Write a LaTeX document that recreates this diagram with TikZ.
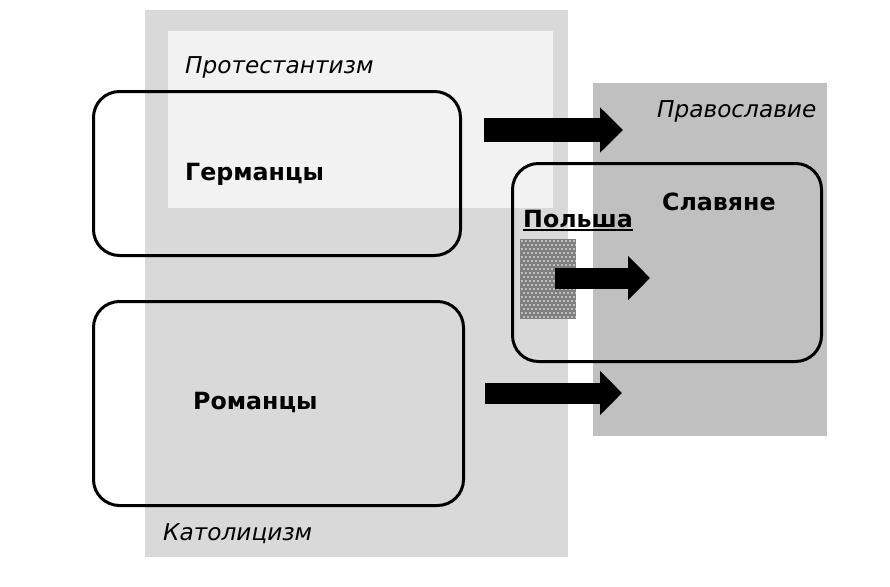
\documentclass[tikz,border=0pt]{standalone}
\usepackage{fontspec}
\setmainfont{DejaVu Sans}
\usetikzlibrary{arrows.meta}
\definecolor{cathcol}{HTML}{D9D9D9}
\definecolor{protcol}{HTML}{F2F2F2}
\definecolor{orthcol}{HTML}{C0C0C0}
\definecolor{polcol}{HTML}{7F7F7F}
\tikzset{
  region/.style={draw=none, inner sep=0pt, anchor=north west},
  rbox/.style={draw=black, line width=3pt, rounded corners=26pt, inner sep=0pt, anchor=north west},
  bigtext/.style={font=\fontsize{23.7}{28}\selectfont\bfseries, inner sep=0pt, anchor=base west},
  reltext/.style={font=\fontsize{23.2}{27}\selectfont\itshape, inner sep=0pt, anchor=base west},
  blockarrow/.style={line width=24pt, -{Triangle[length=23pt,width=44pt]}},
  smallarrow/.style={line width=21pt, -{Triangle[length=22pt,width=43pt]}}
}
\begin{document}
\begin{tikzpicture}[x=1pt,y=-1pt]
\useasboundingbox (0,0) rectangle (890,586);
% religion regions
\node[region, fill=cathcol, minimum width=423pt, minimum height=547pt] (cath) at (145,10) {};
\node[region, fill=protcol, minimum width=385pt, minimum height=177pt] (prot) at (168,31) {};
\node[region, fill=orthcol, minimum width=234pt, minimum height=353pt] (orth) at (593,83) {};
% Poland square
\node[region, fill=polcol, minimum width=56pt, minimum height=80pt] (polsq) at (520,239) {};
\begin{scope}
\clip (polsq.north west) rectangle (polsq.south east);
\foreach \r in {0,...,19}{
  \foreach \c in {0,...,14}{
    \fill[white] ({522+4*\c+2*mod(\r,2)},{241+4*\r}) circle (0.8);
  }
}
\end{scope}
% arrows
\coordinate (a1s) at (484,130); \coordinate (a1e) at (623,130);
\coordinate (a2s) at (555,278); \coordinate (a2e) at (650,278);
\coordinate (a3s) at (485,393); \coordinate (a3e) at (622,393);
\draw[blockarrow] (a1s) -- (a1e);
\draw[smallarrow] (a2s) -- (a2e);
\draw[smallarrow] (a3s) -- (a3e);
% people boxes
\node[rbox, minimum width=367pt, minimum height=164pt] (germbox) at (92,90) {};
\node[rbox, minimum width=370pt, minimum height=204pt] (rombox) at (92,300) {};
\node[rbox, minimum width=309pt, minimum height=198pt] (slavbox) at (511,162) {};
% texts
\node[reltext] (prottxt) at (185,73) {Протестантизм};
\node[reltext] (orthtxt) at (657,117) {Православие};
\node[reltext] (cathtxt) at (163,540) {Католицизм};
\node[bigtext] (germtxt) at (185,180) {Германцы};
\node[bigtext] (romtxt) at (193,409) {Романцы};
\node[bigtext] (slavtxt) at (662,210) {Славяне};
\node[bigtext] (poltxt) at (523,227) {Польша};
\draw[line width=2pt] ([yshift=-3pt]poltxt.base west) -- ([yshift=-3pt]poltxt.base east);
\end{tikzpicture}
\end{document}
